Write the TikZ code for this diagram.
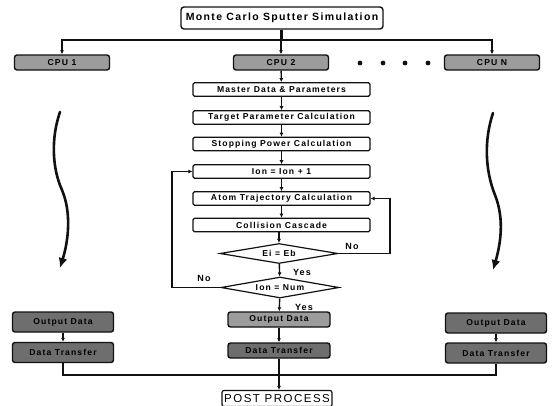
\documentclass[tikz,border=0pt]{standalone}
\usepackage{fontspec}
\usepackage{tikz}
\usetikzlibrary{arrows.meta,shapes.geometric}
\setsansfont{Liberation Sans}
\newfontfamily\flowfont[LetterSpace=13]{Liberation Sans}
\definecolor{ink}{HTML}{111111}
\definecolor{cpufill}{HTML}{9C9C9C}
\definecolor{cpudark}{HTML}{6E6E6E}
\tikzset{
  conn/.style={draw=ink, line width=1.4pt, -{Latex[length=4pt,width=4pt]}},
  line/.style={draw=ink, line width=1.4pt},
  stepbox/.style={draw=ink, line width=1.2pt, rounded corners=1.5pt, fill=white,
                  minimum width=177pt, minimum height=13.5pt, inner sep=0pt,
                  font=\flowfont\bfseries\fontsize{8.6}{9}\selectfont},
  titlebox/.style={stepbox, minimum width=202pt, minimum height=22pt,
                  rounded corners=3pt, line width=1.4pt,
                  font=\flowfont\bfseries\fontsize{10.5}{12}\selectfont},
  cpubox/.style={stepbox, fill=cpufill, minimum width=95pt, minimum height=15pt,
                  line width=1.4pt, rounded corners=2.5pt},
  outbox/.style={cpubox, fill=cpudark, minimum width=101pt, minimum height=20pt},
  testbox/.style={diamond, draw=ink, line width=1.2pt, fill=white, aspect=6,
                  inner sep=0pt, minimum width=118pt, minimum height=20pt,
                  font=\flowfont\bfseries\fontsize{8.6}{9}\selectfont},
  answer/.style={font=\flowfont\bfseries\fontsize{9}{10}\selectfont, inner sep=1pt},
  wave/.style={draw=ink, line width=2.6pt, line cap=round,
               -{Latex[length=10pt,width=9pt]}},
}

\begin{document}
\begin{tikzpicture}[x=1pt,y=-1pt]
    \useasboundingbox (0,0) rectangle (559,405);
    % top of the flow
    \node[titlebox] (title) at (282,18) {Monte Carlo Sputter Simulation};
    \node[cpubox] (cpu1) at (62,62.5) {CPU 1};
    \node[cpubox] (cpu2) at (281,62.5) {CPU 2};
    \node[cpubox] (cpuN) at (492,62.5) {CPU N};
    \foreach \dx in {360,383,405,428}
      \fill[ink] (\dx,63) circle (2.4pt);
    \coordinate (split) at (282,40);
    \draw[line] (title.south) -- (split);
    \draw[conn] (split) -| (cpu1.north);
    \draw[conn] (split) -| (cpuN.north);
    \draw[conn] (title.south -| cpu2.north) -- (cpu2.north);
    % one processor
    \node[stepbox] (master) at (281.5,89.5) {Master Data \& Parameters};
    \node[stepbox] (target) at (281.5,117.5) {Target Parameter Calculation};
    \node[stepbox] (stopping) at (281.5,144) {Stopping Power Calculation};
    \node[stepbox] (ion) at (281.5,171.5) {Ion = Ion + 1};
    \node[stepbox] (atom) at (281.5,198.5) {Atom Trajectory Calculation};
    \node[stepbox] (cascade) at (281.5,225) {Collision Cascade};
    \node[testbox] (eieb) at (279,253.5) {Ei = Eb};
    \node[testbox, minimum height=21pt] (ionnum) at (280,287.5) {Ion = Num};
    \node[cpubox, minimum width=102pt] (outdata) at (279,319.5) {Output Data};
    \node[cpubox, fill=cpudark, minimum width=102pt] (xfer) at (279,350.5) {Data Transfer};
    \draw[conn] (cpu2) -- (master);
    \draw[conn] (master) -- (target);
    \draw[conn] (target) -- (stopping);
    \draw[conn] (stopping) -- (ion);
    \draw[conn] (ion) -- (atom);
    \draw[conn] (atom) -- (cascade);
    \draw[conn] (cascade.south -| eieb.north) -- (eieb.north);
    \draw[conn] (eieb) -- (ionnum);
    \draw[conn] (ionnum) -- (outdata);
    \draw[conn] (outdata) -- (xfer);
    % loops
    \draw[conn] (eieb.east) -- (390,253.5) |- (atom.east);
    \draw[conn] (ionnum.west) -- (172,287.5) |- (ion.west);
    \node[answer] (no1) at (352,246) {No};
    \node[answer] (yes1) at (302,272) {Yes};
    \node[answer] (no2) at (204,278) {No};
    \node[answer] (yes2) at (304,307) {Yes};
    % other processors
    \node[outbox] (left1) at (63,322) {Output Data};
    \node[outbox] (left2) at (63,352.5) {Data Transfer};
    \node[outbox] (right1) at (496,323) {Output Data};
    \node[outbox] (right2) at (496,353) {Data Transfer};
    \draw[conn] (left1) -- (left2);
    \draw[conn] (right1) -- (right2);
    \coordinate (wl0) at (60,112);
    \coordinate (wl1) at (60,268);
    \coordinate (wr0) at (493,113);
    \coordinate (wr1) at (493,270);
    \draw[wave] (wl0) .. controls (51,138) and (52,168) .. (62,190)
                      .. controls (72,214) and (68,242) .. (wl1);
    \draw[wave] (wr0) .. controls (484,140) and (485,170) .. (495,195)
                      .. controls (505,220) and (500,246) .. (wr1);
    % gather
    \node[stepbox, minimum width=110pt, minimum height=16pt, rounded corners=2pt,
          font=\flowfont\fontsize{11.5}{13}\selectfont] (post) at (277,398.5) {POST PROCESS};
    \coordinate (merge) at (279,375);
    \draw[line] (left2.south) |- (merge);
    \draw[line] (right2.south) |- (merge);
    \draw[conn] (xfer.south) -- (xfer.south |- post.north);
  \end{tikzpicture}
\end{document}
